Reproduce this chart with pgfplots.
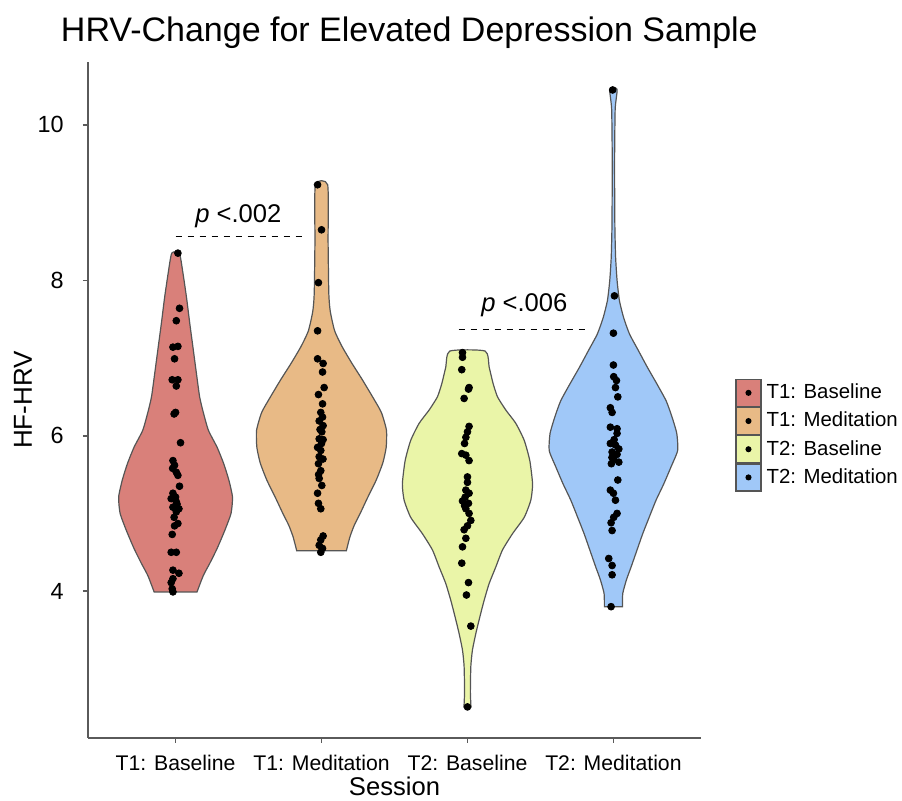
\documentclass[border=0pt]{standalone}
\usepackage{fontspec}
\setmainfont{Liberation Sans}
\usepackage{pgfplots}
\pgfplotsset{compat=1.18}
\definecolor{cA}{HTML}{D9807A}
\definecolor{cB}{HTML}{E8BA86}
\definecolor{cC}{HTML}{EAF5A8}
\definecolor{cD}{HTML}{A0C8F8}
\definecolor{vgray}{HTML}{555555}
\definecolor{agray}{HTML}{5A5A5A}
\begin{document}
\begin{tikzpicture}
\path[use as bounding box] (-44pt,-31.5pt) rectangle (407pt,369pt);
\begin{axis}[
  scale only axis, width=306.5pt, height=338pt,
  xmin=0.4, xmax=4.6, ymin=2.11, ymax=10.81,
  axis x line*=bottom, axis y line*=left,
  axis line style={-, draw=agray, line width=0.8pt},
  every outer x axis line/.append style={-},
  every outer y axis line/.append style={-},
  tick align=outside, major tick length=2.5pt,
  tick style={draw=agray, line width=0.8pt},
  xtick={1,2,3,4},
  xticklabels={T1: Baseline, T1: Meditation, T2: Baseline, T2: Meditation},
  ytick={4,6,8,10},
  /pgf/number format/assume math mode=true,
  xticklabel style={font=\fontsize{10.6}{12}\selectfont, inner sep=0pt, anchor=north, yshift=-6pt},
  yticklabel style={font=\fontsize{11.7}{13}\selectfont, inner sep=0pt, anchor=east, xshift=-9.5pt},
  clip=false,
  legend style={at={(rel axis cs:1,0.448)}, anchor=west, xshift=17pt, draw=none, fill=none,
    inner sep=0pt, row sep=0pt, column sep=2.5pt, font=\fontsize{10.2}{12}\selectfont,
    nodes={inner sep=0pt}},
  legend cell align=left,
  legend image code/.code={\draw[#1,draw=vgray,line width=0.6pt] (0pt,-6.75pt) rectangle (12.5pt,6.75pt); \fill[black] (6.25pt,0pt) circle (1.2pt);},
  violin/.style={draw=vgray, line width=0.6pt, smooth, tension=0.35},
  pts/.style={only marks, mark=*, mark size=1.7pt, black, mark options={draw=black, fill=black}},
]
% T1 Baseline
\addplot[violin, fill=cA] coordinates {
(1.147,3.99) (1.19,4.20) (1.235,4.36) (1.285,4.55) (1.337,4.78) (1.380,5.00) (1.390,5.21) (1.365,5.43) (1.330,5.64) (1.285,5.85) (1.225,6.07) (1.190,6.30) (1.165,6.50) (1.143,6.80) (1.119,7.14) (1.097,7.45) (1.075,7.78) (1.050,8.10) (1.026,8.35)
(0.974,8.35) (0.950,8.10) (0.925,7.78) (0.903,7.45) (0.881,7.14) (0.857,6.80) (0.835,6.50) (0.810,6.30) (0.775,6.07) (0.715,5.85) (0.670,5.64) (0.635,5.43) (0.610,5.21) (0.620,5.00) (0.663,4.78) (0.715,4.55) (0.765,4.36) (0.810,4.20) (0.853,3.99)
} -- cycle;
\addlegendentry{T1: Baseline}
\addplot[pts, forget plot] coordinates {
(1.016,8.35) (1.027,7.64) (1.005,7.48) (0.982,7.14) (1.016,7.15) (0.993,6.99) (0.977,6.72) (1.016,6.72) (1.005,6.64) (1.000,6.30) (0.990,6.28)
(1.034,5.91) (0.982,5.68) (0.993,5.62) (0.980,5.58) (1.005,5.53) (1.016,5.49) (1.027,5.35) (0.982,5.26) (1.000,5.21) (0.970,5.19) (1.005,5.15)
(1.010,5.12) (0.982,5.08) (1.023,5.06) (1.005,5.02) (0.990,4.95) (1.016,4.87) (0.993,4.84) (0.977,4.73) (0.970,4.50) (1.005,4.50) (0.982,4.27)
(1.023,4.23) (0.982,4.16) (0.970,4.11) (0.977,4.03) (0.982,3.99)
};
% T1 Meditation
\addplot[violin, fill=cB] coordinates {
(2.170,4.52) (2.195,4.70) (2.225,4.85) (2.265,5.00) (2.315,5.20) (2.375,5.43) (2.420,5.65) (2.443,5.85) (2.445,6.07) (2.410,6.30) (2.350,6.50) (2.280,6.72) (2.209,6.93) (2.140,7.15) (2.090,7.35) (2.060,7.60) (2.050,7.83) (2.045,8.50) (2.042,9.23)
(1.958,9.23) (1.955,8.50) (1.950,7.83) (1.940,7.60) (1.910,7.35) (1.860,7.15) (1.791,6.93) (1.720,6.72) (1.650,6.50) (1.590,6.30) (1.555,6.07) (1.557,5.85) (1.580,5.65) (1.625,5.43) (1.685,5.20) (1.735,5.00) (1.775,4.85) (1.805,4.70) (1.830,4.52)
} -- cycle;
\addlegendentry{T1: Meditation}
\addplot[pts, forget plot] coordinates {
(1.973,9.23) (2.000,8.65) (1.979,7.97) (1.973,7.35) (1.973,6.99) (2.011,6.93) (2.007,6.82) (2.018,6.62) (1.979,6.53) (2.007,6.41) (1.995,6.30)
(2.007,6.24) (1.984,6.19) (2.011,6.13) (1.990,6.08) (2.002,6.05) (1.984,5.96) (2.011,5.95) (2.000,5.90) (1.973,5.85) (1.995,5.81) (1.984,5.73)
(2.010,5.70) (1.979,5.64) (1.995,5.55) (1.980,5.50) (1.984,5.45) (2.002,5.36) (1.973,5.26) (1.979,5.13) (1.995,5.06) (2.011,4.71) (1.995,4.66)
(1.984,4.59) (2.007,4.55) (1.995,4.50)
};
% T2 Baseline
\addplot[violin, fill=cC] coordinates {
(3.024,2.51) (3.020,2.70) (3.023,3.03) (3.034,3.24) (3.058,3.46) (3.085,3.67) (3.114,3.88) (3.149,4.10) (3.194,4.31) (3.240,4.53) (3.309,4.74) (3.389,4.95) (3.434,5.17) (3.446,5.38) (3.427,5.68) (3.389,5.94) (3.331,6.16) (3.263,6.33) (3.206,6.50) (3.176,6.67) (3.149,6.88) (3.121,7.09)
(2.879,7.09) (2.851,6.88) (2.824,6.67) (2.794,6.50) (2.737,6.33) (2.669,6.16) (2.611,5.94) (2.573,5.68) (2.554,5.38) (2.566,5.17) (2.611,4.95) (2.691,4.74) (2.760,4.53) (2.806,4.31) (2.851,4.10) (2.886,3.88) (2.915,3.67) (2.942,3.46) (2.966,3.24) (2.977,3.03) (2.980,2.70) (2.976,2.51)
} -- cycle;
\addlegendentry{T2: Baseline}
\addplot[pts, forget plot] coordinates {
(2.966,7.07) (2.966,7.01) (2.961,6.85) (3.011,6.62) (3.007,6.60) (2.977,6.48) (3.011,6.12) (3.000,6.05) (2.989,5.98) (2.980,5.90) (2.961,5.77)
(2.989,5.75) (3.011,5.68) (3.000,5.47) (3.000,5.40) (2.989,5.30) (3.011,5.26) (2.984,5.21) (2.966,5.16) (3.007,5.13) (2.980,5.10) (2.989,5.06)
(3.011,5.00) (3.023,4.91) (3.000,4.84) (2.977,4.79) (2.989,4.68) (2.966,4.57) (2.961,4.36) (3.007,4.11) (2.993,3.95) (3.023,3.55) (3.000,2.51)
};
% T2 Meditation
\addplot[violin, fill=cD] coordinates {
(4.062,3.80) (4.064,3.97) (4.090,4.15) (4.121,4.31) (4.160,4.52) (4.201,4.74) (4.245,4.95) (4.292,5.17) (4.345,5.38) (4.395,5.60) (4.440,5.81) (4.434,6.03) (4.400,6.25) (4.361,6.45) (4.300,6.66) (4.233,6.88) (4.170,7.10) (4.110,7.31) (4.070,7.52) (4.041,7.74) (4.025,8.00) (4.015,8.30) (4.010,8.70) (4.008,9.50) (4.012,10.20) (4.025,10.46)
(3.975,10.46) (3.988,10.20) (3.992,9.50) (3.990,8.70) (3.985,8.30) (3.975,8.00) (3.959,7.74) (3.930,7.52) (3.890,7.31) (3.830,7.10) (3.767,6.88) (3.700,6.66) (3.639,6.45) (3.600,6.25) (3.566,6.03) (3.560,5.81) (3.605,5.60) (3.655,5.38) (3.708,5.17) (3.755,4.95) (3.799,4.74) (3.840,4.52) (3.879,4.31) (3.910,4.15) (3.936,3.97) (3.938,3.80)
} -- cycle;
\addlegendentry{T2: Meditation}
\addplot[pts, forget plot] coordinates {
(3.995,10.45) (4.007,7.80) (4.000,7.32) (4.000,6.91) (4.002,6.76) (4.021,6.71) (4.014,6.62) (4.030,6.50) (3.979,6.36) (3.991,6.30) (3.979,6.11)
(4.025,6.09) (4.025,6.03) (4.005,5.95) (3.979,5.90) (4.014,5.88) (4.037,5.83) (3.991,5.79) (4.025,5.76) (3.990,5.72) (4.002,5.70) (4.037,5.66)
(3.986,5.64) (4.030,5.43) (3.979,5.30) (4.000,5.26) (4.014,5.17) (4.025,5.00) (4.002,4.95) (3.984,4.88) (3.991,4.78) (3.968,4.42) (3.991,4.33)
(3.991,4.21) (3.984,3.80)
};
% significance annotations
\addplot[black, dashed, line width=0.5pt, forget plot] coordinates {(1.00,8.56) (1.89,8.56)};
\addplot[black, dashed, line width=0.5pt, forget plot] coordinates {(2.94,7.37) (3.82,7.37)};
\node[anchor=base, font=\fontsize{12.8}{14}\selectfont, inner sep=0pt] at (axis cs:1.43,8.75) {\textit{p} <.002};
\node[anchor=base, font=\fontsize{12.8}{14}\selectfont, inner sep=0pt] at (axis cs:3.39,7.60) {\textit{p} <.006};
% titles
\node[anchor=base west, inner sep=0pt, font=\fontsize{17}{20}\selectfont] at (rel axis cs:0,1) [xshift=-13.7pt, yshift=10.2pt] {HRV-Change for Elevated Depression Sample};
\node[anchor=base, inner sep=0pt, font=\fontsize{12.8}{15}\selectfont] at (rel axis cs:0.5,0) [yshift=-29pt] {Session};
\node[xshift=-32.5pt, rotate=90, anchor=center, inner sep=0pt, font=\fontsize{13}{15}\selectfont] at (rel axis cs:0,0.5) {HF-HRV};
\end{axis}
\end{tikzpicture}
\end{document}
